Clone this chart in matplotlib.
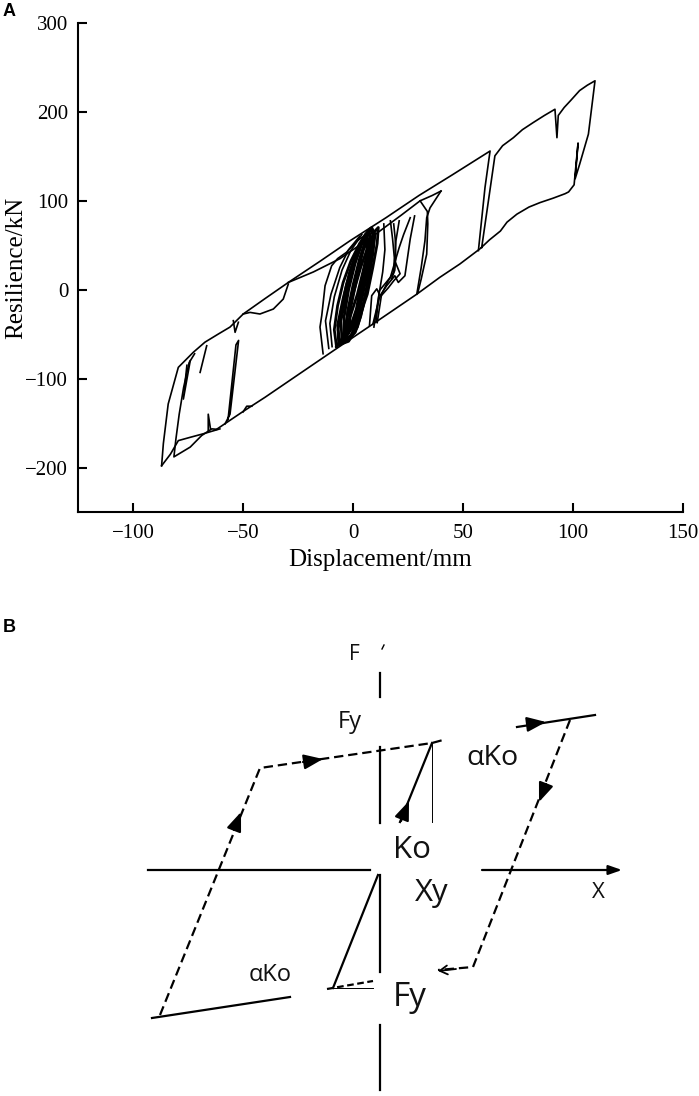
import matplotlib
matplotlib.use("Agg")
import matplotlib.pyplot as plt

# ---------------- Panel A data: displacement (mm) / resilience (kN) ----------------
env_x = [-87, -86.2, -84, -79.4, -72.6, -67.3, -61.2, -55.9, -49.9, -40, -29.4, -15, -1.4, 15, 30, 45, 62.3, 60, 57]
env_y = [-198, -173, -128.5, -87.3, -70.4, -59, -49.8, -42, -27.3, -10, 8.2, 32, 55, 81, 106, 129, 156, 115, 44]

right_x = [58.5, 64.5, 68, 72.9, 77, 81.9, 87, 91.8, 92.7, 93.3, 96, 99, 103, 106.5, 110, 108.5, 107, 105,
           103, 101, 102.3, 100.5, 98, 96.4, 91, 85, 80, 74.5, 70, 67, 62, 57.7, 48.6, 39.5, 29, 10, -5,
           -24, -40, -50, -62]
right_y = [47.5, 150.6, 162, 171, 180, 188, 196, 203, 171, 196, 205, 213, 224, 230, 235, 205, 175, 158,
           141, 125, 165, 118, 110, 108, 103, 98, 93, 85, 76, 66, 56, 46, 29, 14, -5, -37, -62,
           -94, -121, -137, -157]

left_x = [-87, -83, -79.4, -74, -68, -60.5]
left_y = [-198, -185, -169.7, -166, -162, -156.5]
left2_x = [-62, -64.2, -68.8, -74, -81.4, -80.5, -79, -77, -74.5, -72]
left2_y = [-157, -156.5, -164, -177, -188, -168, -140, -110, -82, -72]
spike1_x = [-74, -77.1, -75.5]
spike1_y = [-80, -123, -85]
spike2_x = [-66.5, -69.5]
spike2_y = [-63, -93]
spike3_x = [-65.8, -65.8, -64.8]
spike3_y = [-158, -140, -156]
branch_x = [-58.2, -55.9, -52, -53.2, -56.8]
branch_y = [-151, -140, -57, -62, -146]
notch_x = [-54.4, -53.6, -52.1]
notch_y = [-34.8, -47.9, -36.6]
curve_x = [-49.9, -46.8, -42.3, -36.2, -31.7, -29.4]
curve_y = [-27.3, -25.5, -27.3, -21.7, -10.5, 6.4]
bump_x = [-50, -48.3, -46]
bump_y = [-137.5, -131, -131]

top_x = [-29.4, -18, -5.9, 10, 22, 30.5, 36, 40]
top_y = [8.2, 20, 35, 62, 84, 100, 106, 111]
rl1_x = [40, 35, 33.5, 32.7, 31, 29]
rl1_y = [111, 92, 81, 55, 25, -5]
rl2_x = [30.5, 33.8, 34, 33.5, 31, 29.5]
rl2_y = [100, 88, 74, 40, 12, -3]
zz1_x = [28, 26, 23.6, 20.6, 19, 15.3, 12.3, 10.8, 8.5, 7.5]
zz1_y = [83, 57, 15.7, 8.2, 15.7, 4.5, -6.7, 1, -6.7, -40]
zz2_x = [26, 23, 21, 17, 12, 10.5]
zz2_y = [81, 62, 47.5, 14, -1, -36]
zz3_x = [17, 18, 18.8, 18.5, 16, 13, 11]
zz3_y = [77.5, 57, 36, 20, 10, -5, -37]
zz4_x = [18.5, 19.2, 19.4, 19, 17.5]
zz4_y = [74, 57, 36, 22, 12]
zz5_x = [21, 19.5, 19, 21.4, 18.5, 16, 12, 9]
zz5_y = [77.5, 55, 32.6, 18, 10, 2, -9, -39]
zz6_x = [14, 14.5, 13.5, 11.5, 9.5]
zz6_y = [74, 45, 20, -10, -42]
cl1_x = [-13.6, -15, -14.2, -12.7, -9.7, -7, -3, 2, 8]
cl1_y = [-72, -42, -29, 4.5, 27, 35, 42, 55, 66]
cl2_x = [-11, -12.5, -10, -6, -2, 3]
cl2_y = [-66, -35, -5, 25, 45, 60]
cl3_x = [-9.5, -10.5, -8.5, -5, -1, 4]
cl3_y = [-64, -38, -8, 22, 44, 62]

core1_x = [-6, -7, -4.5, -1.5, 2, 5.5, 8, 9.5, 8, 6, 3.5, 1, -3, -6]
core1_y = [-60, -40, -10, 20, 45, 62, 69, 58, 30, 0, -30, -48, -58, -60]
core2_x = [-5, -5.5, -3, 0, 3.5, 7, 8.8, 7, 4.5, 2, -1, -5]
core2_y = [-57, -35, -5, 25, 50, 66, 55, 25, -5, -35, -52, -57]
core3_x = [-4, -4, -2, 1, 4.5, 7.5, 8, 6, 3.5, 0.5, -4]
core3_y = [-55, -30, 0, 30, 55, 64, 48, 20, -12, -40, -55]
core4_x = [-3, -2.5, 0, 3, 6, 7, 5, 2.5, -0.5, -3]
core4_y = [-52, -25, 5, 35, 58, 45, 15, -18, -42, -52]
core5_x = [-6.5, -6.8, -5, -3, 0, 4, 8.5, 10, 9, 7, 4.5, 2, -2, -6.5]
core5_y = [-62, -45, -20, 5, 30, 55, 70, 62, 40, 10, -20, -42, -58, -62]
core6_x = [-2, -1, 1.5, 4, 6.5, 6.3, 4, 1.5, -2]
core6_y = [-48, -20, 10, 38, 60, 40, 10, -22, -48]
core7_x = [-7.5, -8.5, -7, -4.5, -1, 3, 6, 7.5, 5, 2, -1.5, -5, -7.5]
core7_y = [-64, -45, -18, 8, 32, 52, 62, 50, 25, -5, -32, -55, -64]
core8_x = [-4, -3, 0, 3.5, 7, 10, 11.5, 11, 9, 6.5, 3, -0.5, -4]
core8_y = [-58, -35, -5, 25, 50, 66, 70, 52, 25, -5, -30, -50, -58]

strokes = [(env_x, env_y), (right_x, right_y), (left_x, left_y), (left2_x, left2_y),
           (spike1_x, spike1_y), (spike2_x, spike2_y), (spike3_x, spike3_y), (branch_x, branch_y),
           (notch_x, notch_y), (curve_x, curve_y), (bump_x, bump_y), (top_x, top_y),
           (rl1_x, rl1_y), (rl2_x, rl2_y), (zz1_x, zz1_y), (zz2_x, zz2_y), (zz3_x, zz3_y),
           (zz4_x, zz4_y), (zz5_x, zz5_y), (zz6_x, zz6_y), (cl1_x, cl1_y), (cl2_x, cl2_y),
           (cl3_x, cl3_y)]
core = [(core1_x, core1_y), (core2_x, core2_y), (core3_x, core3_y), (core4_x, core4_y),
        (core5_x, core5_y), (core6_x, core6_y), (core7_x, core7_y), (core8_x, core8_y)]

x_ticks = [-100, -50, 0, 50, 100, 150]
y_ticks = [-200, -100, 0, 100, 200, 300]

# ---------------- Panel B data: schematic bilinear model (X, F) ----------------
loop_dash_x = [-22, -12, 5.2, 6.3]
loop_dash_y = [-14.5, 10.2, 12.7, 13.0]
ko_up_x = [5.2, 2.0]
ko_up_y = [12.7, 4.8]
ko_up_ref_x = [5.2, 5.2]
ko_up_ref_y = [12.7, 4.8]
right_top_x = [13.7, 21.5]
right_top_y = [14.3, 15.5]
right_dash_x = [19.0, 9.3, 5.8]
right_dash_y = [15.0, -9.7, -10.0]
low_solid_x = [-22.8, -9.0]
low_solid_y = [-14.8, -12.7]
ko_low_x = [-0.2, -4.7]
ko_low_y = [-0.5, -11.8]
ko_low_dash_x = [-5.3, -0.7]
ko_low_dash_y = [-11.9, -11.1]
ko_low_ref_x = [-4.7, -0.7]
ko_low_ref_y = [-11.8, -11.8]
f_axis_segments = [(19.7, 17.3), (12.3, 4.7), (-0.5, -10.2), (-15.5, -22.0)]
x_axis_left = (-23.2, -1.0)
x_axis_right = (10.2, 24.2)

# arrows: (tail, tip)
arrows = [((-14.6, 4.0), (-13.9, 5.8)),
          ((-7.7, 10.8), (-5.7, 11.1)),
          ((2.1, 4.9), (2.9, 6.9)),
          ((15.0, 14.6), (16.6, 14.8)),
          ((16.6, 8.6), (15.9, 6.8))]
left_arrow = ((7.6, -9.9), (5.8, -10.1))

labels_b = [("F", -2.6, 21.5, 15), ("Fy", -3.0, 14.8, 17), ("αKo", 11.2, 11.2, 20.5),
            ("Ko", 3.2, 2.0, 22.5), ("Xy", 5.2, -2.3, 22.5), ("X", 21.8, -2.3, 16),
            ("αKo", -11.0, -10.5, 17), ("Fy", 3.0, -12.7, 24)]

# ---------------- Figure ----------------
W, H = 699, 1096
fig = plt.figure(figsize=(W / 100, H / 100), dpi=100)

serif = "Liberation Serif"
ax = fig.add_axes([78 / W, 1 - 512 / H, 605 / W, 489 / H])
for sx, sy in strokes:
    ax.plot(sx, sy, color="black", lw=1.2, solid_joinstyle="round")
for sx, sy in core:
    ax.plot(sx, sy, color="black", lw=2.0, solid_joinstyle="round")

ax.set_xlim(-125, 150)
ax.set_ylim(-250, 300)
ax.set_xticks(x_ticks)
ax.set_yticks(y_ticks)
ax.spines["top"].set_visible(False)
ax.spines["right"].set_visible(False)
for s in ["left", "bottom"]:
    ax.spines[s].set_linewidth(1.5)
ax.tick_params(direction="in", length=6.5, width=1.5, labelsize=15)
ax.tick_params(axis="x", pad=9)
ax.tick_params(axis="y", pad=7)
for lab in ax.get_xticklabels() + ax.get_yticklabels():
    lab.set_fontfamily(serif)
fig.text(380 / W, 1 - 560 / H, "Displacement/mm", family=serif, fontsize=18, ha="center", va="center")
fig.text(16 / W, 1 - 268 / H, "Resilience/kN", family=serif, fontsize=18, ha="center", va="center", rotation=90)

fig.text(9 / W, 1 - 12 / H, "A", family="Liberation Sans", fontweight="bold", fontsize=13, ha="center", va="center")
fig.text(9 / W, 1 - 628 / H, "B", family="Liberation Sans", fontweight="bold", fontsize=13, ha="center", va="center")

# Panel B
bx = fig.add_axes([0, 0, 1, 496 / H])
bx.set_xlim(-38.0, 31.9)
bx.set_ylim(-22.6, 27.0)
bx.axis("off")

lw = 1.6
dash = (4.2, 2.2)
bx.plot(loop_dash_x, loop_dash_y, color="black", lw=lw, dashes=dash)
bx.plot(right_dash_x, right_dash_y, color="black", lw=lw, dashes=dash)
bx.plot(ko_low_dash_x, ko_low_dash_y, color="black", lw=lw, dashes=(3.0, 1.6))
bx.plot(ko_up_x, ko_up_y, color="black", lw=lw)
bx.plot(right_top_x, right_top_y, color="black", lw=lw)
bx.plot(low_solid_x, low_solid_y, color="black", lw=lw)
bx.plot(ko_low_x, ko_low_y, color="black", lw=lw)
bx.plot(ko_up_ref_x, ko_up_ref_y, color="black", lw=0.7)
bx.plot(ko_low_ref_x, ko_low_ref_y, color="black", lw=0.7)
for f0, f1 in f_axis_segments:
    bx.plot([0, 0], [f0, f1], color="black", lw=lw)
bx.plot(x_axis_left, [0, 0], color="black", lw=lw)
bx.annotate("", xy=(x_axis_right[1], 0), xytext=(x_axis_right[0], 0),
            arrowprops=dict(arrowstyle="-|>,head_length=0.8,head_width=0.28", color="black", lw=lw,
                            shrinkA=0, shrinkB=0))
bx.plot([0.2, 0.4], [22.1, 22.5], color="black", lw=1.0)
for tail, tip in arrows:
    bx.annotate("", xy=tip, xytext=tail,
                arrowprops=dict(arrowstyle="-|>,head_length=1.15,head_width=0.45", color="black", lw=lw,
                                shrinkA=0, shrinkB=0))
bx.annotate("", xy=left_arrow[1], xytext=left_arrow[0],
            arrowprops=dict(arrowstyle="->,head_length=0.55,head_width=0.32", color="black", lw=1.3,
                            shrinkA=0, shrinkB=0))
for txt, tx, ty, fs in labels_b:
    bx.text(tx, ty, txt, family="Open Sans", fontsize=fs, ha="center", va="center", color="#111111")

fig.savefig("out.png", dpi=100)
